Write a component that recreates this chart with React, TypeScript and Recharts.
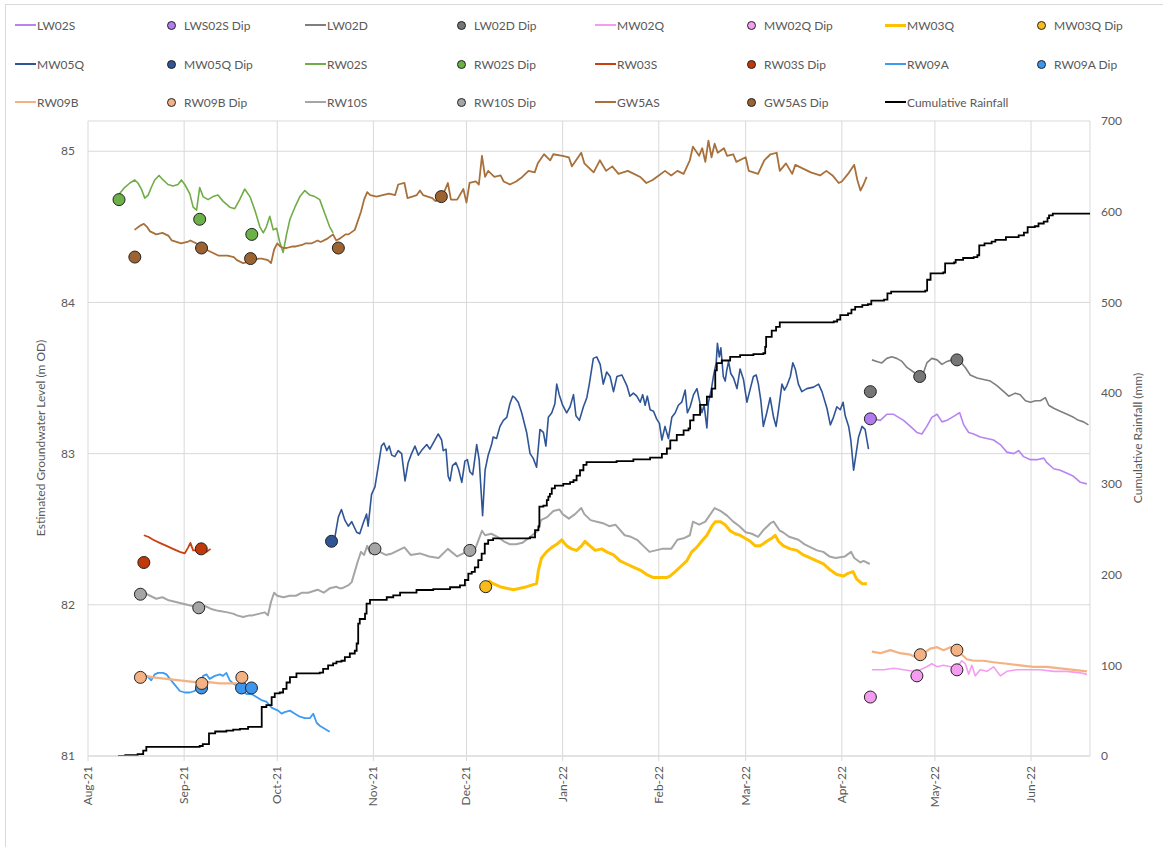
import { CartesianGrid, ComposedChart, Line, XAxis, YAxis } from 'recharts';

type Pt = [number, number | null];

// x values are days counted from 1 Aug 2021
const monthDays = [0, 31, 61, 92, 122, 153, 184, 212, 243, 273, 304];
const monthLabels = ['Aug-21', 'Sep-21', 'Oct-21', 'Nov-21', 'Dec-21', 'Jan-22', 'Feb-22', 'Mar-22', 'Apr-22', 'May-22', 'Jun-22'];
const levelTicks = [81, 82, 83, 84, 85];
const rainTicks = [0, 100, 200, 300, 400, 500, 600, 700];

// groundwater level logger records (m OD)
const lw02s: Pt[] = [
  [253.2, 83.23], [255.4, 83.22], [257.5, 83.26], [259.7, 83.26], [261.3, 83.24], [262.9, 83.22], [265.1, 83.18],
  [267.2, 83.14], [268.8, 83.13], [270.4, 83.18], [272.0, 83.24], [273.7, 83.26], [275.3, 83.21], [276.9, 83.22],
  [278.5, 83.24], [280.1, 83.26], [281.0, 83.27], [282.3, 83.19], [283.9, 83.14], [285.5, 83.13], [287.6, 83.11],
  [289.8, 83.10], [291.9, 83.09], [294.1, 83.06], [296.2, 83.01], [298.4, 83.0], [300.0, 83.02], [301.6, 82.98],
  [303.8, 82.96], [305.9, 82.96], [308.1, 82.97], [309.1, 82.94], [311.3, 82.9], [313.4, 82.89], [315.6, 82.87],
  [317.7, 82.85], [319.9, 82.81], [322.0, 82.8],
];

const lw02d: Pt[] = [
  [252.7, 83.62], [254.3, 83.61], [255.9, 83.6], [257.5, 83.63], [259.1, 83.64], [260.7, 83.63], [262.4, 83.61],
  [264.0, 83.57], [266.1, 83.54], [267.7, 83.52], [269.4, 83.54], [270.4, 83.6], [272.0, 83.63], [273.7, 83.62],
  [275.3, 83.59], [276.9, 83.61], [278.5, 83.62], [280.1, 83.63], [281.2, 83.61], [282.8, 83.57], [284.4, 83.52],
  [286.6, 83.5], [288.7, 83.49], [290.9, 83.48], [293.0, 83.45], [295.2, 83.41], [296.8, 83.38], [298.9, 83.4],
  [300.5, 83.39], [302.2, 83.35], [303.8, 83.34], [305.4, 83.35], [307.0, 83.35], [308.6, 83.37], [309.7, 83.32],
  [311.3, 83.3], [313.4, 83.28], [315.6, 83.26], [317.7, 83.24], [319.3, 83.22], [320.9, 83.21], [322.5, 83.19],
];

const mw02q: Pt[] = [
  [252.7, 81.57], [256.5, 81.57], [259.7, 81.58], [262.9, 81.57], [266.1, 81.56], [268.3, 81.57], [270.4, 81.59],
  [272.0, 81.61], [273.7, 81.59], [275.8, 81.6], [278.0, 81.59], [280.1, 81.59], [281.7, 81.63], [282.8, 81.61],
  [283.9, 81.54], [284.9, 81.6], [286.0, 81.53], [287.6, 81.57], [289.8, 81.56], [291.9, 81.59], [294.1, 81.53],
  [296.2, 81.56], [299.4, 81.57], [302.7, 81.57], [307.0, 81.57], [311.3, 81.56], [315.6, 81.56], [319.9, 81.55],
  [322.0, 81.54],
];

const mw03q: Pt[] = [
  [129.0, 82.16], [130.6, 82.14], [132.8, 82.12], [134.9, 82.11], [137.1, 82.1], [139.3, 82.11], [141.4, 82.12],
  [143.0, 82.13], [144.6, 82.14], [145.2, 82.23], [146.2, 82.31], [147.8, 82.35], [149.5, 82.38], [151.1, 82.4],
  [152.7, 82.43], [154.3, 82.39], [155.9, 82.37], [157.5, 82.36], [159.1, 82.39], [160.2, 82.42], [161.8, 82.39],
  [163.5, 82.36], [165.6, 82.37], [167.2, 82.35], [169.4, 82.33], [171.5, 82.29], [173.6, 82.27], [175.8, 82.25],
  [178.0, 82.23], [180.1, 82.2], [182.3, 82.18], [184.4, 82.18], [186.5, 82.18], [187.6, 82.19], [189.3, 82.22],
  [191.4, 82.26], [193.0, 82.29], [194.6, 82.35], [196.2, 82.38], [197.8, 82.42], [199.5, 82.46], [201.1, 82.52],
  [202.2, 82.55], [203.8, 82.55], [205.4, 82.53], [207.0, 82.49], [208.6, 82.47], [210.2, 82.46], [211.8, 82.44],
  [213.5, 82.42], [215.1, 82.39], [216.7, 82.39], [218.8, 82.42], [220.4, 82.44], [221.5, 82.46], [222.6, 82.42],
  [224.2, 82.39], [226.4, 82.37], [228.5, 82.36], [230.6, 82.33], [232.8, 82.31], [234.9, 82.29], [237.1, 82.27],
  [239.3, 82.23], [241.4, 82.2], [243.5, 82.19], [245.2, 82.21], [246.6, 82.22], [247.8, 82.17], [249.5, 82.14],
  [251.1, 82.14],
];

const mw05q: Pt[] = [
  [79.6, 82.45], [80.7, 82.58], [81.7, 82.63], [82.8, 82.56], [83.9, 82.52], [85.0, 82.55], [86.6, 82.48],
  [87.6, 82.47], [88.7, 82.54], [89.8, 82.6], [90.3, 82.52], [91.4, 82.73], [92.5, 82.78], [93.6, 82.92],
  [94.6, 83.05], [95.4, 83.07], [96.3, 83.02], [97.1, 83.05], [97.9, 82.99], [98.9, 82.98], [100.0, 83.02],
  [101.1, 83.0], [102.2, 82.82], [103.2, 82.94], [104.3, 83.0], [105.4, 83.05], [106.5, 82.99], [107.5, 83.02],
  [109.2, 83.06], [110.2, 83.03], [111.8, 83.09], [112.9, 83.13], [114.0, 83.09], [114.5, 83.02], [115.4, 83.03],
  [116.1, 82.85], [116.7, 82.82], [117.5, 82.92], [118.6, 82.94], [119.4, 82.9], [120.5, 82.81], [121.5, 82.95],
  [122.3, 82.96], [123.1, 82.88], [124.0, 82.86], [125.3, 83.06], [126.1, 82.96], [127.2, 82.59], [128.0, 82.89],
  [129.0, 82.99], [130.1, 83.06], [130.6, 83.11], [131.7, 83.1], [132.8, 83.18], [133.9, 83.22], [135.0, 83.24],
  [136.0, 83.33], [136.9, 83.38], [137.6, 83.37], [138.7, 83.34], [139.8, 83.27], [141.4, 83.14], [142.5, 83.0],
  [143.5, 82.97], [144.6, 82.91], [145.7, 83.16], [146.8, 83.14], [147.6, 83.05], [148.4, 83.24], [149.5, 83.27],
  [150.5, 83.33], [151.1, 83.46], [151.9, 83.39], [153.0, 83.32], [154.3, 83.27], [155.4, 83.31], [156.5, 83.39],
  [157.3, 83.25], [158.4, 83.22], [159.7, 83.31], [160.8, 83.37], [161.6, 83.46], [162.9, 83.63], [164.0, 83.64],
  [165.1, 83.59], [166.1, 83.46], [167.2, 83.54], [168.3, 83.51], [169.4, 83.41], [170.5, 83.51], [172.1, 83.52],
  [173.7, 83.45], [174.7, 83.38], [175.8, 83.4], [176.9, 83.38], [178.0, 83.34], [178.8, 83.39], [179.6, 83.32],
  [180.3, 83.38], [181.2, 83.29], [182.3, 83.28], [183.3, 83.23], [184.2, 83.2], [185.0, 83.09], [186.0, 83.18],
  [187.1, 83.1], [188.2, 83.24], [189.3, 83.27], [190.3, 83.32], [191.4, 83.34], [192.5, 83.42], [193.2, 83.27],
  [194.1, 83.31], [195.2, 83.39], [196.3, 83.43], [197.1, 83.35], [197.9, 83.27], [198.6, 83.32], [199.5, 83.17],
  [200.0, 83.34], [200.9, 83.42], [201.6, 83.51], [202.5, 83.6], [202.9, 83.73], [203.5, 83.64], [204.0, 83.7],
  [204.8, 83.51], [205.4, 83.48], [205.9, 83.55], [206.5, 83.61], [207.2, 83.53], [208.1, 83.5], [209.2, 83.43],
  [210.2, 83.56], [211.3, 83.49], [212.4, 83.34], [213.5, 83.43], [214.5, 83.51], [215.4, 83.52], [216.1, 83.46],
  [216.9, 83.35], [217.7, 83.18], [218.8, 83.27], [219.9, 83.37], [221.0, 83.24], [221.8, 83.18], [222.6, 83.29],
  [223.7, 83.46], [224.5, 83.42], [225.3, 83.45], [226.4, 83.51], [227.2, 83.6], [228.0, 83.56], [229.0, 83.46],
  [230.1, 83.41], [231.7, 83.43], [233.9, 83.44], [235.5, 83.46], [236.6, 83.41], [238.2, 83.3], [239.3, 83.19],
  [240.3, 83.24], [241.4, 83.31], [242.5, 83.29], [243.4, 83.34], [244.1, 83.25], [245.2, 83.18], [245.9, 83.09],
  [246.8, 82.89], [247.6, 83.0], [248.4, 83.11], [249.5, 83.18], [250.5, 83.16], [251.6, 83.03],
];

const rw02s: Pt[] = [
  [10.2, 84.72], [11.8, 84.76], [13.5, 84.79], [15.1, 84.81], [16.1, 84.79], [17.2, 84.75], [18.3, 84.69],
  [19.4, 84.71], [20.4, 84.76], [21.5, 84.81], [22.9, 84.84], [24.2, 84.81], [25.8, 84.78], [27.4, 84.77],
  [29.0, 84.78], [30.1, 84.81], [31.2, 84.78], [32.8, 84.72], [33.9, 84.63], [35.0, 84.61], [36.0, 84.76],
  [37.1, 84.7], [38.7, 84.68], [40.3, 84.7], [41.9, 84.71], [43.5, 84.67], [45.7, 84.63], [47.3, 84.62],
  [48.9, 84.68], [50.5, 84.75], [52.2, 84.7], [53.8, 84.61], [55.4, 84.5], [56.5, 84.46], [57.5, 84.5],
  [58.6, 84.57], [59.7, 84.48], [60.8, 84.49], [61.8, 84.4], [62.9, 84.33], [64.0, 84.45], [65.1, 84.55],
  [66.7, 84.63], [68.3, 84.7], [69.9, 84.74], [71.5, 84.71], [73.1, 84.7], [74.7, 84.68], [76.3, 84.59],
  [77.9, 84.5], [79.0, 84.46],
];

const rw03s: Pt[] = [
  [18.0, 82.46], [19.4, 82.45], [21.0, 82.43], [23.1, 82.41], [25.3, 82.39], [27.4, 82.37], [29.6, 82.35],
  [31.2, 82.34], [32.3, 82.38], [33.0, 82.41], [33.9, 82.36], [35.5, 82.36], [37.1, 82.38], [38.2, 82.35],
  [39.5, 82.37],
];

const rw09a: Pt[] = [
  [19.0, 81.53], [20.4, 81.5], [21.5, 81.54], [22.6, 81.55], [24.2, 81.55], [25.3, 81.54], [26.4, 81.51],
  [28.0, 81.47], [29.6, 81.43], [31.2, 81.42], [32.8, 81.42], [34.4, 81.43], [36.0, 81.47], [37.1, 81.53],
  [38.2, 81.54], [39.2, 81.51], [40.9, 81.53], [42.5, 81.54], [43.5, 81.53], [44.6, 81.55], [45.7, 81.5],
  [46.8, 81.48], [48.4, 81.46], [50.0, 81.43], [51.1, 81.41], [52.7, 81.41], [54.3, 81.39], [55.9, 81.37],
  [57.5, 81.36], [59.2, 81.32], [60.2, 81.31], [61.3, 81.3], [62.4, 81.28], [63.4, 81.29], [65.1, 81.3],
  [66.7, 81.28], [68.3, 81.26], [69.9, 81.25], [71.5, 81.25], [72.6, 81.28], [73.7, 81.22], [74.7, 81.2],
  [76.3, 81.18], [77.9, 81.16],
];

// two deployments, no record in between
const rw09b: Pt[] = [
  [17.0, 81.52], [18.8, 81.53], [21.0, 81.52], [25.3, 81.51], [29.6, 81.5], [33.9, 81.49], [38.2, 81.49],
  [42.5, 81.48], [46.8, 81.48], [48.1, 81.48], [150, null],
  [252.7, 81.69], [255.4, 81.68], [258.6, 81.7], [261.8, 81.68], [265.1, 81.67], [267.2, 81.65], [269.4, 81.68],
  [271.5, 81.71], [273.7, 81.72], [275.8, 81.7], [278.0, 81.72], [280.1, 81.71], [281.2, 81.68], [283.3, 81.64],
  [285.5, 81.63], [288.7, 81.63], [291.9, 81.62], [296.2, 81.61], [300.5, 81.6], [304.8, 81.59], [309.1, 81.59],
  [313.4, 81.58], [317.7, 81.57], [322.0, 81.56],
];

const rw10s: Pt[] = [
  [17, 82.08], [18, 82.08], [20, 82.06], [22, 82.04], [24, 82.05], [26, 82.03], [28, 82.02], [30, 82.01],
  [32, 82.0], [34, 81.99], [36, 81.99], [38, 81.99], [40, 81.97], [42, 81.96], [45, 81.95], [47, 81.94],
  [48, 81.93], [50, 81.92], [52, 81.93], [53, 81.93], [55, 81.94], [57, 81.95], [58, 81.93], [59, 82.02],
  [60, 82.08], [61, 82.06], [63, 82.05], [65, 82.06], [67, 82.06], [69, 82.08], [71, 82.08], [74, 82.1],
  [76, 82.08], [78, 82.11], [80, 82.12], [81, 82.11], [82, 82.11], [84, 82.13], [85, 82.15], [87, 82.29],
  [88, 82.35], [89, 82.33], [90, 82.39], [91, 82.34], [94, 82.35], [96, 82.33], [98, 82.34], [102, 82.38],
  [104, 82.33], [107, 82.34], [110, 82.32], [113, 82.31], [116, 82.37], [119, 82.32], [121, 82.34], [123, 82.36],
  [125, 82.38], [127, 82.49], [128, 82.46], [130, 82.47], [132, 82.45], [134, 82.42], [136, 82.4], [138, 82.4],
  [140, 82.41], [142, 82.44], [145, 82.49], [146, 82.56], [148, 82.58], [150, 82.62], [152, 82.63], [153, 82.6],
  [155, 82.57], [157, 82.6], [159, 82.64], [160, 82.6], [162, 82.56], [164, 82.55], [166, 82.54], [168, 82.52],
  [170, 82.53], [173, 82.46], [175, 82.45], [177, 82.43], [179, 82.39], [181, 82.35], [183, 82.36], [185, 82.37],
  [188, 82.37], [190, 82.43], [192, 82.44], [194, 82.46], [195, 82.55], [197, 82.53], [199, 82.55], [202, 82.64],
  [204, 82.62], [206, 82.59], [208, 82.55], [210, 82.52], [212, 82.48], [214, 82.47], [216, 82.45], [218, 82.5],
  [220, 82.54], [221, 82.55], [223, 82.49], [224, 82.48], [226, 82.45], [229, 82.43], [231, 82.4], [233, 82.38],
  [235, 82.36], [237, 82.35], [239, 82.32], [241, 82.31], [244, 82.32], [246, 82.35], [247, 82.31], [249, 82.28],
  [250, 82.29], [252, 82.27],
];

const gw5as: Pt[] = [
  [15, 84.48], [17, 84.51], [18, 84.52], [19, 84.5], [20, 84.47], [22, 84.45], [24, 84.46], [26, 84.44],
  [27, 84.41], [30, 84.39], [32, 84.4], [33, 84.41], [35, 84.39], [37, 84.37], [38, 84.35], [40, 84.33],
  [42, 84.31], [45, 84.31], [47, 84.3], [48, 84.28], [50, 84.26], [52, 84.27], [53, 84.28], [55, 84.29],
  [56, 84.29], [58, 84.28], [59, 84.26], [60, 84.35], [61, 84.39], [62, 84.37], [63, 84.36], [64, 84.36],
  [66, 84.37], [67, 84.37], [69, 84.38], [70, 84.39], [72, 84.39], [74, 84.41], [75, 84.4], [77, 84.42],
  [79, 84.45], [80, 84.41], [81, 84.42], [83, 84.45], [84, 84.45], [86, 84.48], [88, 84.6], [89, 84.68],
  [90, 84.73], [91, 84.71], [93, 84.7], [95, 84.71], [97, 84.72], [99, 84.71], [100, 84.78], [102, 84.79],
  [103, 84.69], [106, 84.71], [107, 84.74], [108, 84.71], [111, 84.69], [112, 84.67], [114, 84.69], [116, 84.79],
  [117, 84.68], [119, 84.68], [121, 84.75], [122, 84.66], [123, 84.79], [125, 84.8], [126, 84.78], [127, 84.97],
  [128, 84.83], [129, 84.87], [131, 84.83], [133, 84.84], [134, 84.8], [136, 84.78], [138, 84.8], [140, 84.83],
  [142, 84.87], [144, 84.86], [145, 84.92], [147, 84.98], [149, 84.94], [150, 84.98], [153, 84.97], [155, 84.96],
  [156, 84.9], [159, 84.99], [160, 84.92], [163, 84.86], [165, 84.94], [167, 84.87], [169, 84.9], [171, 84.85],
  [174, 84.87], [176, 84.85], [178, 84.83], [180, 84.79], [182, 84.81], [184, 84.84], [186, 84.87], [188, 84.84],
  [190, 84.87], [192, 84.85], [194, 84.94], [195, 85.03], [197, 84.97], [198, 85.02], [199, 84.93], [200, 85.07],
  [201, 84.96], [202, 85.05], [203, 84.99], [205, 85.02], [206, 84.97], [208, 84.98], [209, 84.93], [212, 84.96],
  [213, 84.87], [216, 84.85], [218, 84.94], [220, 84.98], [222, 84.99], [223, 84.87], [225, 84.92], [227, 84.85],
  [228, 84.91], [230, 84.89], [233, 84.86], [236, 84.84], [238, 84.87], [240, 84.84], [242, 84.79], [243, 84.8],
  [245, 84.85], [247, 84.91], [248, 84.81], [249, 84.74], [250, 84.78], [251, 84.83],
];

// manual dip readings (m OD)
const lw02sDip: Pt[] = [[252.2, 83.23]];
const lw02dDip: Pt[] = [[252.2, 83.41], [268.1, 83.51], [280.1, 83.62]];
const mw02qDip: Pt[] = [[252.2, 81.39], [267.2, 81.53], [280.1, 81.57]];
const mw03qDip: Pt[] = [[128.2, 82.12]];
const mw05qDip: Pt[] = [[78.5, 82.42]];
const rw02sDip: Pt[] = [[10.0, 84.68], [36.0, 84.55], [52.8, 84.45]];
const rw03sDip: Pt[] = [[18.0, 82.28], [36.5, 82.37]];
const rw09aDip: Pt[] = [[36.6, 81.45], [49.5, 81.45], [52.7, 81.45]];
const rw09bDip: Pt[] = [[16.9, 81.52], [36.7, 81.48], [49.6, 81.52], [268.3, 81.67], [280.1, 81.7]];
const rw10sDip: Pt[] = [[16.9, 82.07], [35.7, 81.98], [92.5, 82.37], [123.1, 82.36]];
const gw5asDip: Pt[] = [[15.1, 84.3], [36.6, 84.36], [52.4, 84.29], [80.7, 84.36], [113.9, 84.7]];

// cumulative rainfall (mm), value holds until the next entry
const rainfall: Pt[] = [
  [9.7, 0], [12, 1], [16, 2], [17.8, 6], [18.8, 10], [36, 11], [37, 13], [39, 25], [41, 27], [44.6, 28],
  [46.8, 29], [49, 30], [51.6, 32], [56, 54], [57.5, 56], [59.2, 65], [60.2, 69], [61.8, 70], [62.9, 74],
  [64, 81], [65.1, 87], [67.2, 91], [74.7, 92], [75.8, 96], [77.4, 100], [79, 102], [80.1, 104], [81.7, 105],
  [82.8, 109], [84.4, 113], [86, 116], [86.6, 124], [87.1, 146], [87.6, 151], [89.3, 157], [89.8, 168],
  [90.9, 172], [96.3, 175], [98.4, 177], [100.6, 180], [105.9, 183], [111.3, 184], [116.7, 186], [119.9, 188],
  [121.5, 194], [122.6, 201], [123.7, 203], [124.7, 208], [125.8, 216], [126.9, 223], [127.9, 234], [129, 238],
  [130.6, 240], [142.5, 241], [144.1, 249], [145.2, 253], [145.5, 275], [146.8, 276], [147.9, 282], [148.4, 286],
  [148.9, 289], [149.5, 295], [150.5, 298], [153.2, 300], [155.4, 302], [156.5, 304], [157.5, 309], [158.6, 315],
  [159.7, 321], [160.7, 324], [170.4, 325], [175.8, 327], [181.2, 329], [185, 333], [186.6, 339], [187.7, 348],
  [189.8, 354], [192, 359], [193.6, 361], [194.1, 370], [195.2, 376], [197.3, 387], [199.5, 396], [201.1, 405],
  [202.2, 425], [202.7, 433], [204.3, 436], [207, 440], [210.2, 442], [214.5, 443], [217.7, 444], [218.3, 451],
  [218.6, 462], [220.4, 469], [221.8, 473], [223, 478], [240.4, 479], [241.5, 481], [242.5, 486], [245, 488],
  [246.1, 492], [247.3, 495], [249.6, 497], [251.4, 498], [252.5, 502], [256.6, 503], [257.7, 510], [258.9, 512],
  [269.9, 513], [270.5, 525], [271.6, 532], [275.7, 533], [276.3, 543], [279.2, 544], [279.7, 547], [282.1, 549],
  [285.5, 550], [286.7, 552], [287.3, 563], [289, 565], [291.3, 567], [292.5, 569], [295.9, 572], [300, 574],
  [301.7, 577], [302.9, 583], [305.2, 584], [306.4, 587], [308.1, 589], [309.3, 593], [309.8, 596], [311, 598],
  [323, 598],
];

const rows = (pts: Pt[]) => pts.map(([d, v]) => ({ d, v }));

const FONT = 'Lato, "Open Sans", sans-serif';
const TEXT = '#595959';
const GRID = '#d9d9d9';

const lineSeries = [
  { name: 'LW02S', pts: lw02s, color: '#b784f0', width: 1.6 },
  { name: 'LW02D', pts: lw02d, color: '#7f7f7f', width: 1.6 },
  { name: 'MW02Q', pts: mw02q, color: '#f49df0', width: 1.6 },
  { name: 'MW03Q', pts: mw03q, color: '#ffc000', width: 3 },
  { name: 'MW05Q', pts: mw05q, color: '#2f5597', width: 1.6 },
  { name: 'RW02S', pts: rw02s, color: '#70ad47', width: 1.6 },
  { name: 'RW03S', pts: rw03s, color: '#c9410f', width: 1.8 },
  { name: 'RW09A', pts: rw09a, color: '#3d9cf2', width: 1.8 },
  { name: 'RW09B', pts: rw09b, color: '#f4b183', width: 2.2 },
  { name: 'RW10S', pts: rw10s, color: '#a5a5a5', width: 2 },
  { name: 'GW5AS', pts: gw5as, color: '#a8703a', width: 1.8 },
];

const dipSeries = [
  { name: 'LWS02S Dip', pts: lw02sDip, color: '#b07cf0' },
  { name: 'LW02D Dip', pts: lw02dDip, color: '#767676' },
  { name: 'MW02Q Dip', pts: mw02qDip, color: '#f39cf0' },
  { name: 'MW03Q Dip', pts: mw03qDip, color: '#f7bc1a' },
  { name: 'MW05Q Dip', pts: mw05qDip, color: '#2f5597' },
  { name: 'RW02S Dip', pts: rw02sDip, color: '#6cb048' },
  { name: 'RW03S Dip', pts: rw03sDip, color: '#c0390b' },
  { name: 'RW09A Dip', pts: rw09aDip, color: '#3d96ee' },
  { name: 'RW09B Dip', pts: rw09bDip, color: '#f4b183' },
  { name: 'RW10S Dip', pts: rw10sDip, color: '#a5a5a5' },
  { name: 'GW5AS Dip', pts: gw5asDip, color: '#9c6331' },
];

const legendRows = [
  ['LW02S', 'LWS02S Dip', 'LW02D', 'LW02D Dip', 'MW02Q', 'MW02Q Dip', 'MW03Q', 'MW03Q Dip'],
  ['MW05Q', 'MW05Q Dip', 'RW02S', 'RW02S Dip', 'RW03S', 'RW03S Dip', 'RW09A', 'RW09A Dip'],
  ['RW09B', 'RW09B Dip', 'RW10S', 'RW10S Dip', 'GW5AS', 'GW5AS Dip', 'Cumulative Rainfall'],
];
const legendCols = [15, 165, 305, 455, 595, 745, 885, 1035];
const legendRowY = [25, 64, 102];

function LegendEntry({ name, left, top }: { name: string; left: number; top: number }) {
  const dip = dipSeries.find((s) => s.name === name);
  const line = lineSeries.find((s) => s.name === name);
  const color = name === 'Cumulative Rainfall' ? '#000' : line?.color;
  const lineWidth = name === 'MW03Q' ? 3 : name === 'Cumulative Rainfall' ? 2 : 1.6;
  return (
    <div style={{ position: 'absolute', left, top: top - 8, height: 16, display: 'flex', alignItems: 'center', whiteSpace: 'nowrap' }}>
      {dip ? (
        <span
          style={{
            width: 9,
            height: 9,
            borderRadius: '50%',
            background: dip.color,
            border: '1px solid #222',
            boxSizing: 'border-box',
            marginLeft: 2,
            marginRight: 8,
          }}
        />
      ) : (
        <span style={{ width: 21, height: lineWidth, background: color, marginRight: 1 }} />
      )}
      <span style={{ fontSize: 12, color: TEXT, fontFamily: FONT }}>{name}</span>
    </div>
  );
}

function MonthTick({ x, y, payload }: any) {
  const label = monthLabels[monthDays.indexOf(payload.value)];
  return (
    <text
      x={x}
      y={y}
      dx={-2}
      dy={4}
      transform={`rotate(-90 ${x} ${y})`}
      textAnchor="end"
      fill={TEXT}
      fontSize={12}
      fontFamily={FONT}
    >
      {label}
    </text>
  );
}

export default function App() {
  return (
    <div style={{ position: 'absolute', left: 0, top: 0, width: 1163, height: 847, overflow: 'hidden', background: '#fff' }}>
      <div style={{ position: 'absolute', left: 5, top: 4, width: 1170, height: 860, border: `1px solid ${GRID}` }} />
      {legendRows.map((row, r) =>
        row.map((name, c) => <LegendEntry key={name} name={name} left={legendCols[c]} top={legendRowY[r]} />),
      )}
      <div
        style={{
          position: 'absolute',
          left: 40,
          top: 438,
          transform: 'translate(-50%, -50%) rotate(-90deg)',
          whiteSpace: 'nowrap',
          fontSize: 12,
          color: TEXT,
          fontFamily: FONT,
        }}
      >
        Estimated Groundwater Level (m OD)
      </div>
      <div
        style={{
          position: 'absolute',
          left: 1137,
          top: 438,
          transform: 'translate(-50%, -50%) rotate(-90deg)',
          whiteSpace: 'nowrap',
          fontSize: 12,
          color: TEXT,
          fontFamily: FONT,
        }}
      >
        Cumulative Rainfall (mm)
      </div>
      <div style={{ position: 'absolute', left: 0, top: 0 }}>
        <ComposedChart width={1163} height={847} margin={{ top: 121, right: 23, bottom: 31, left: 38 }}>
          <CartesianGrid yAxisId="lvl" stroke={GRID} strokeWidth={1} />
          <XAxis
            dataKey="d"
            type="number"
            domain={[0, 323]}
            ticks={monthDays}
            height={60}
            tick={<MonthTick />}
            tickSize={5}
            tickMargin={3}
            axisLine={{ stroke: GRID }}
            tickLine={{ stroke: GRID }}
            allowDataOverflow
          />
          <YAxis
            yAxisId="lvl"
            orientation="left"
            type="number"
            domain={[81, 85.2]}
            ticks={levelTicks}
            width={50}
            axisLine={false}
            tickLine={false}
            tickSize={0}
            tickMargin={13}
            tick={{ fill: TEXT, fontSize: 12, fontFamily: FONT }}
            allowDataOverflow
          />
          <YAxis
            yAxisId="rain"
            orientation="right"
            type="number"
            domain={[0, 700]}
            ticks={rainTicks}
            width={50}
            axisLine={false}
            tickLine={false}
            tickSize={0}
            tickMargin={11}
            tick={{ fill: TEXT, fontSize: 12, fontFamily: FONT }}
            allowDataOverflow
          />
          {lineSeries.map((s) => (
            <Line
              key={s.name}
              name={s.name}
              yAxisId="lvl"
              data={rows(s.pts)}
              dataKey="v"
              type="linear"
              stroke={s.color}
              strokeWidth={s.width}
              strokeLinejoin="round"
              dot={false}
              activeDot={false}
              isAnimationActive={false}
            />
          ))}
          <Line
            name="Cumulative Rainfall"
            yAxisId="rain"
            data={rows(rainfall)}
            dataKey="v"
            type="stepAfter"
            stroke="#000"
            strokeWidth={1.8}
            dot={false}
            activeDot={false}
            isAnimationActive={false}
          />
          {dipSeries.map((s) => (
            <Line
              key={s.name}
              name={s.name}
              yAxisId="lvl"
              data={rows(s.pts)}
              dataKey="v"
              stroke="none"
              dot={{ r: 6, fill: s.color, stroke: '#222', strokeWidth: 1 }}
              activeDot={false}
              isAnimationActive={false}
            />
          ))}
        </ComposedChart>
      </div>
    </div>
  );
}
